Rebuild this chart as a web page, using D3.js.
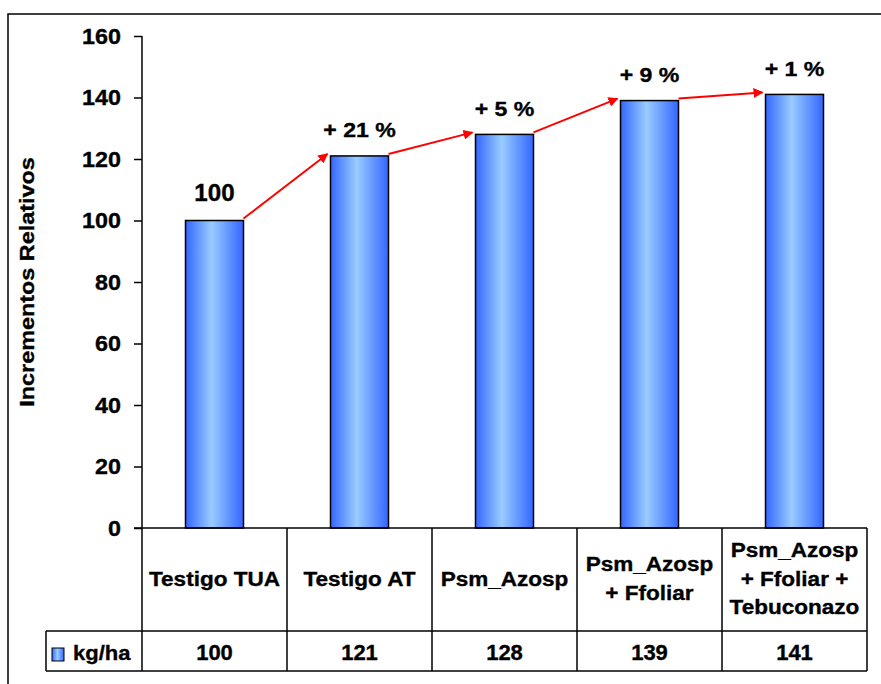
<!DOCTYPE html>
<html>
<head>
<meta charset="utf-8">
<script src="https://cdn.jsdelivr.net/npm/d3@7"></script>
<style>
  body { margin: 0; background: #fff; }
  svg text { font-family: "Liberation Sans", Arial, sans-serif; font-weight: bold; fill: #000; stroke: #000; stroke-width: 0.35px; }
</style>
</head>
<body>
<div id="chart"></div>
<script>
// data
const categories = [
  ['Testigo TUA'],
  ['Testigo AT'],
  ['Psm_Azosp'],
  ['Psm_Azosp', '+ Ffoliar'],
  ['Psm_Azosp', '+ Ffoliar +', 'Tebuconazo']
];
const values = [100, 121, 128, 139, 141];
const barLabels = ['100', '+ 21 %', '+ 5 %', '+ 9 %', '+ 1 %'];
const yTicks = [0, 20, 40, 60, 80, 100, 120, 140, 160];
const seriesName = 'kg/ha';
const yTitle = 'Incrementos Relativos';

const W = 881, H = 684;
const plotLeft = 142, plotRight = 867, plotTop = 36, base = 528;
const rowMid = 631, rowBot = 671, legLeft = 46;

const svg = d3.select('#chart').append('svg')
  .attr('width', W).attr('height', H);

const defs = svg.append('defs');
const grad = defs.append('linearGradient').attr('id', 'barGrad')
  .attr('x1', '0%').attr('x2', '100%').attr('y1', '0%').attr('y2', '0%');
grad.append('stop').attr('offset', '0%').attr('stop-color', '#3366ff');
grad.append('stop').attr('offset', '45%').attr('stop-color', '#99ccff');
grad.append('stop').attr('offset', '100%').attr('stop-color', '#3366ff');

defs.append('marker').attr('id', 'arrow')
  .attr('viewBox', '0 0 10 10').attr('refX', 9).attr('refY', 5)
  .attr('markerWidth', 5).attr('markerHeight', 5)
  .attr('orient', 'auto')
  .append('path').attr('d', 'M0,0 L10,5 L0,10 z').attr('fill', '#ff0000');

// outer frame (right and bottom edges lie outside the picture)
svg.append('rect')
  .attr('x', 8).attr('y', 14).attr('width', 900).attr('height', 700)
  .attr('fill', 'none').attr('stroke', '#000').attr('stroke-width', 1.5);

const x = d3.scaleBand().domain(d3.range(values.length))
  .range([plotLeft, plotRight]).paddingInner(0.6).paddingOuter(0.3);
const y = d3.scaleLinear().domain([0, 160]).range([base, plotTop]);
const step = x.step();
const cellLeft = i => plotLeft + i * step;

// stretched bold text, like the original rendering
function label(g, tx, ty, str, size, sx, rot) {
  return g.append('text')
    .attr('transform', `translate(${tx},${ty})` + (rot ? ` rotate(${rot})` : '') + ` scale(${sx},1)`)
    .attr('text-anchor', 'middle')
    .style('font-size', size + 'px')
    .text(str);
}

// y axis
const yAxis = svg.append('g').attr('transform', `translate(${plotLeft},0)`)
  .call(d3.axisLeft(y).tickValues(yTicks).tickSize(8).tickPadding(0).tickFormat(''));
yAxis.select('.domain').remove();
yAxis.selectAll('line').attr('stroke', '#000').attr('stroke-width', 1.5);
yTicks.forEach(t => {
  label(svg, 121, y(t) + 7.8, String(t), 22, 1.06).attr('text-anchor', 'end');
});

label(svg, 34, 282, yTitle, 20, 1.17, -90);

// bars
svg.selectAll('rect.bar').data(values).enter().append('rect')
  .attr('class', 'bar')
  .attr('x', (d, i) => x(i))
  .attr('y', d => y(d))
  .attr('width', x.bandwidth())
  .attr('height', d => base - y(d))
  .attr('fill', 'url(#barGrad)')
  .attr('stroke', '#000').attr('stroke-width', 1.5);

// value labels above bars
values.forEach((v, i) => {
  const first = i === 0;
  label(svg, x(i) + x.bandwidth() / 2, y(v) - (first ? 19.5 : 18.5),
    barLabels[i], first ? 23 : 21, first ? 1.05 : 1.1);
});

// red arrows between bar tops
for (let i = 0; i < values.length - 1; i++) {
  svg.append('line')
    .attr('x1', x(i) + x.bandwidth()).attr('y1', y(values[i]) - 2)
    .attr('x2', x(i + 1) - 3).attr('y2', y(values[i + 1]) - 2)
    .attr('stroke', '#ff0000').attr('stroke-width', 2)
    .attr('marker-end', 'url(#arrow)');
}

// data table
const grid = svg.append('g').attr('stroke', '#000').attr('stroke-width', 1.5);
grid.append('line').attr('x1', 134).attr('x2', plotRight).attr('y1', base).attr('y2', base);
grid.append('line').attr('x1', legLeft).attr('x2', plotRight).attr('y1', rowMid).attr('y2', rowMid);
grid.append('line').attr('x1', legLeft).attr('x2', plotRight).attr('y1', rowBot).attr('y2', rowBot);
grid.append('line').attr('x1', plotLeft).attr('x2', plotLeft).attr('y1', plotTop).attr('y2', rowBot);
grid.append('line').attr('x1', legLeft).attr('x2', legLeft).attr('y1', rowMid).attr('y2', rowBot);
for (let i = 1; i <= values.length; i++) {
  grid.append('line').attr('x1', cellLeft(i)).attr('x2', cellLeft(i))
    .attr('y1', base).attr('y2', rowBot);
}

categories.forEach((lines, i) => {
  const cx = cellLeft(i) + step / 2;
  const y0 = 585.5 - (lines.length - 1) * 14.3;
  lines.forEach((ln, j) => label(svg, cx, y0 + j * 28.6, ln, 20.5, 1.1));
  label(svg, cx, 660, String(values[i]), 22, 1.0);
});

// legend cell
svg.append('rect').attr('x', 52).attr('y', 648).attr('width', 12).attr('height', 13)
  .attr('fill', 'url(#barGrad)').attr('stroke', '#000').attr('stroke-width', 1);
label(svg, 73, 660, seriesName, 21, 1.05).attr('text-anchor', 'start');
</script>
</body>
</html>
